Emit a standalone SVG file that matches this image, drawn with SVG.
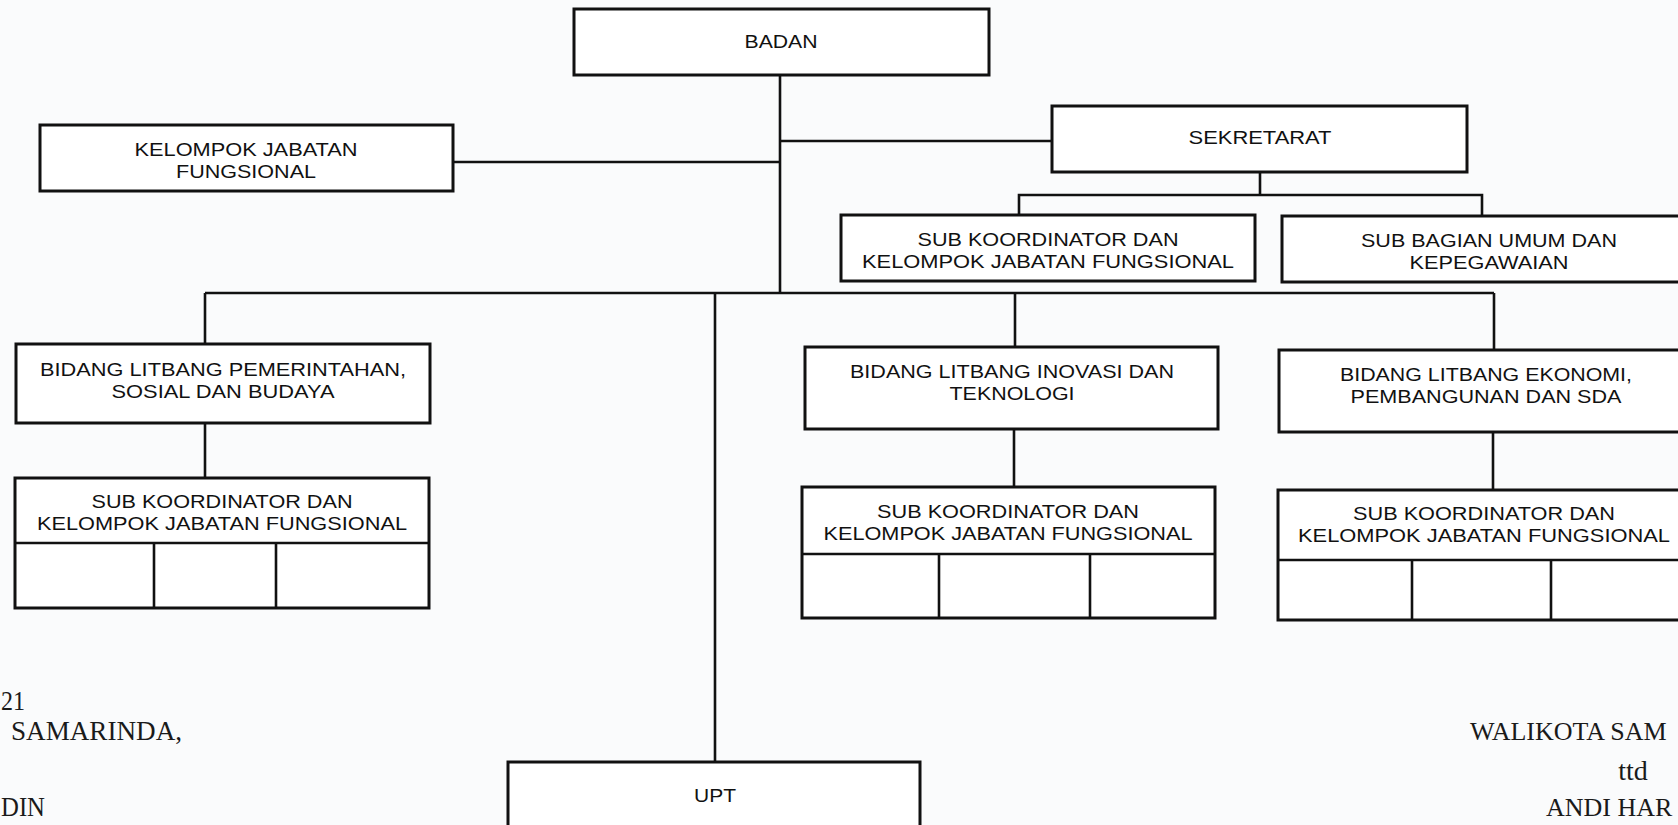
<svg xmlns="http://www.w3.org/2000/svg" width="1678" height="825" viewBox="0 0 1678 825">
<style>
.box{fill:#ffffff;stroke:#111;stroke-width:3}
.ln{stroke:#111;stroke-width:2.6;fill:none}
.t{font-family:"Liberation Sans",Arial,sans-serif;font-size:19px;fill:#111;text-anchor:middle}
.s{font-family:"Liberation Serif","Times New Roman",serif;font-size:28px;fill:#1a1a1a}
.sr{font-family:"Liberation Serif","Times New Roman",serif;font-size:26px;fill:#1a1a1a}
</style>
<rect x="0" y="0" width="1678" height="825" fill="#fafbfc"/>
<g id="connectors">
<line class="ln" x1="780" y1="75" x2="780" y2="293"/>
<line class="ln" x1="453" y1="162" x2="780" y2="162"/>
<line class="ln" x1="780" y1="141" x2="1052" y2="141"/>
<line class="ln" x1="1260" y1="172" x2="1260" y2="195"/>
<polyline class="ln" points="1019,215 1019,195 1482,195 1482,216"/>
<line class="ln" x1="205" y1="293" x2="1494" y2="293"/>
<line class="ln" x1="205" y1="293" x2="205" y2="344"/>
<line class="ln" x1="715" y1="293" x2="715" y2="762"/>
<line class="ln" x1="1015" y1="293" x2="1015" y2="347"/>
<line class="ln" x1="1494" y1="293" x2="1494" y2="350"/>
<line class="ln" x1="205" y1="423" x2="205" y2="478"/>
<line class="ln" x1="1014" y1="429" x2="1014" y2="487"/>
<line class="ln" x1="1493" y1="432" x2="1493" y2="490"/>
</g>
<g id="badan">
<rect class="box" x="574" y="9" width="415" height="66"/>
<text class="t" x="781" y="48" textLength="73" lengthAdjust="spacingAndGlyphs">BADAN</text>
</g>
<g id="kjf">
<rect class="box" x="40" y="125" width="413" height="66"/>
<text class="t" x="246" y="156" textLength="223" lengthAdjust="spacingAndGlyphs">KELOMPOK JABATAN</text>
<text class="t" x="246" y="177.5" textLength="140" lengthAdjust="spacingAndGlyphs">FUNGSIONAL</text>
</g>
<g id="sekretariat">
<rect class="box" x="1052" y="106" width="415" height="66"/>
<text class="t" x="1260" y="144" textLength="143" lengthAdjust="spacingAndGlyphs">SEKRETARAT</text>
</g>
<g id="sek-subkoord">
<rect class="box" x="841" y="215" width="414" height="66"/>
<text class="t" x="1048" y="246" textLength="261" lengthAdjust="spacingAndGlyphs">SUB KOORDINATOR DAN</text>
<text class="t" x="1048" y="267.5" textLength="372" lengthAdjust="spacingAndGlyphs">KELOMPOK JABATAN FUNGSIONAL</text>
</g>
<g id="sek-umum">
<rect class="box" x="1282" y="216" width="420" height="66"/>
<text class="t" x="1489" y="247" textLength="256" lengthAdjust="spacingAndGlyphs">SUB BAGIAN UMUM DAN</text>
<text class="t" x="1489" y="268.5" textLength="159" lengthAdjust="spacingAndGlyphs">KEPEGAWAIAN</text>
</g>
<g id="bidang-pemerintahan">
<rect class="box" x="16" y="344" width="414" height="79"/>
<text class="t" x="223" y="376" textLength="366" lengthAdjust="spacingAndGlyphs">BIDANG LITBANG PEMERINTAHAN,</text>
<text class="t" x="223" y="397.5" textLength="223" lengthAdjust="spacingAndGlyphs">SOSIAL DAN BUDAYA</text>
</g>
<g id="sub-pemerintahan">
<rect class="box" x="15" y="478" width="414" height="130"/>
<line class="ln" x1="15" y1="543" x2="429" y2="543"/>
<line class="ln" x1="154" y1="543" x2="154" y2="608"/>
<line class="ln" x1="276" y1="543" x2="276" y2="608"/>
<text class="t" x="222" y="508" textLength="261" lengthAdjust="spacingAndGlyphs">SUB KOORDINATOR DAN</text>
<text class="t" x="222" y="529.5" textLength="370" lengthAdjust="spacingAndGlyphs">KELOMPOK JABATAN FUNGSIONAL</text>
</g>
<g id="bidang-inovasi">
<rect class="box" x="805" y="347" width="413" height="82"/>
<text class="t" x="1012" y="378" textLength="324" lengthAdjust="spacingAndGlyphs">BIDANG LITBANG INOVASI DAN</text>
<text class="t" x="1012" y="399.5" textLength="125" lengthAdjust="spacingAndGlyphs">TEKNOLOGI</text>
</g>
<g id="sub-inovasi">
<rect class="box" x="802" y="487" width="413" height="131"/>
<line class="ln" x1="802" y1="554" x2="1215" y2="554"/>
<line class="ln" x1="939" y1="554" x2="939" y2="618"/>
<line class="ln" x1="1090" y1="554" x2="1090" y2="618"/>
<text class="t" x="1008" y="518" textLength="262" lengthAdjust="spacingAndGlyphs">SUB KOORDINATOR DAN</text>
<text class="t" x="1008" y="539.5" textLength="369" lengthAdjust="spacingAndGlyphs">KELOMPOK JABATAN FUNGSIONAL</text>
</g>
<g id="bidang-ekonomi">
<rect class="box" x="1279" y="350" width="420" height="82"/>
<text class="t" x="1486" y="381" textLength="292" lengthAdjust="spacingAndGlyphs">BIDANG LITBANG EKONOMI,</text>
<text class="t" x="1486" y="402.5" textLength="271" lengthAdjust="spacingAndGlyphs">PEMBANGUNAN DAN SDA</text>
</g>
<g id="sub-ekonomi">
<rect class="box" x="1278" y="490" width="420" height="130"/>
<line class="ln" x1="1278" y1="560" x2="1698" y2="560"/>
<line class="ln" x1="1412" y1="560" x2="1412" y2="620"/>
<line class="ln" x1="1551" y1="560" x2="1551" y2="620"/>
<text class="t" x="1484" y="520" textLength="262" lengthAdjust="spacingAndGlyphs">SUB KOORDINATOR DAN</text>
<text class="t" x="1484" y="541.5" textLength="372" lengthAdjust="spacingAndGlyphs">KELOMPOK JABATAN FUNGSIONAL</text>
</g>
<g id="upt">
<rect class="box" x="508" y="762" width="412" height="90"/>
<text class="t" x="715" y="802" textLength="42" lengthAdjust="spacingAndGlyphs">UPT</text>
</g>
<g id="signature">
<text class="s" x="1" y="710" textLength="24" lengthAdjust="spacingAndGlyphs">21</text>
<text class="s" x="11" y="740" textLength="171" lengthAdjust="spacingAndGlyphs">SAMARINDA,</text>
<text class="s" x="1" y="816" textLength="44" lengthAdjust="spacingAndGlyphs">DIN</text>
<text class="sr" x="1470" y="740">WALIKOTA SAM</text>
<text class="s" x="1633" y="780" text-anchor="middle">ttd</text>
<text class="sr" x="1546" y="816">ANDI HAR</text>
</g>
</svg>
